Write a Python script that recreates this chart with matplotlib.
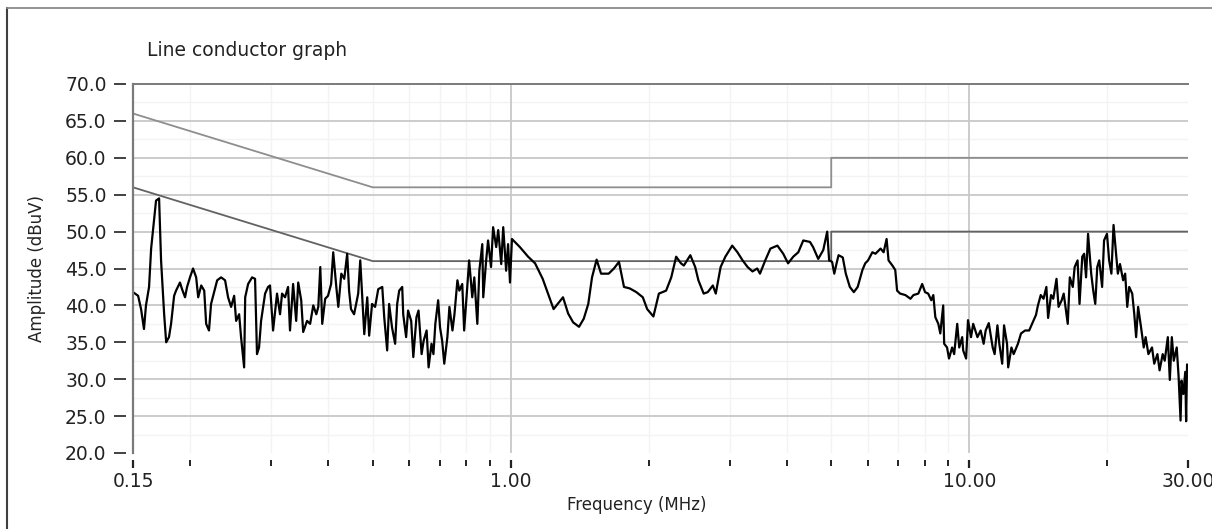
import matplotlib
matplotlib.use("Agg")
import matplotlib.pyplot as plt
from matplotlib.lines import Line2D
from matplotlib.ticker import FixedLocator, NullFormatter

# Measured conducted emission on the line conductor (MHz, dBuV)
freq_mhz = [
    0.150, 0.1539, 0.1562, 0.1585, 0.1601, 0.1626, 0.1643, 0.1667, 0.1684, 0.1710,
    0.1727, 0.1754, 0.1772, 0.1797, 0.1816, 0.1844, 0.1862, 0.1899, 0.1919, 0.1948,
    0.1968, 0.1997, 0.2028, 0.2060, 0.2081, 0.2113, 0.2145, 0.2166, 0.2197, 0.2220,
    0.2254, 0.2289, 0.2335, 0.2382, 0.2418, 0.2455, 0.2493, 0.2518, 0.2556, 0.2581,
    0.2621, 0.2635, 0.2674, 0.2728, 0.2769, 0.2796, 0.2825, 0.2854, 0.2912, 0.2956,
    0.2985, 0.3031, 0.3092, 0.3139, 0.3171, 0.3219, 0.3268, 0.3300, 0.3352, 0.3404,
    0.3439, 0.3491, 0.3526, 0.3595, 0.3651, 0.3709, 0.3766, 0.3804, 0.3842, 0.3880,
    0.3938, 0.3994, 0.4057, 0.4100, 0.4164, 0.4206, 0.4270, 0.4334, 0.4398, 0.4440,
    0.4483, 0.4553, 0.4648, 0.4696, 0.4744, 0.4792, 0.4864, 0.4911, 0.4983, 0.5060,
    0.5140, 0.5245, 0.5297, 0.5376, 0.5429, 0.5509, 0.5595, 0.5653, 0.5711, 0.5798,
    0.5827, 0.5913, 0.5971, 0.6065, 0.6130, 0.6228, 0.6293, 0.6391, 0.6456, 0.6554,
    0.6619, 0.6717, 0.6782, 0.6847, 0.6945, 0.7011, 0.7086, 0.7161, 0.7274, 0.7349,
    0.7462, 0.7537, 0.7650, 0.7725, 0.7838, 0.7913, 0.8029, 0.8114, 0.8242, 0.8327,
    0.8455, 0.8540, 0.8668, 0.8710, 0.8838, 0.8923, 0.9057, 0.9152, 0.9295, 0.9390,
    0.9533, 0.9629, 0.9771, 0.9867, 0.9962, 1.006, 1.047, 1.091, 1.130, 1.174,
    1.206, 1.240, 1.300, 1.334, 1.368, 1.409, 1.443, 1.476, 1.504, 1.539,
    1.574, 1.635, 1.679, 1.722, 1.766, 1.818, 1.879, 1.941, 1.984, 2.047,
    2.104, 2.182, 2.239, 2.295, 2.351, 2.385, 2.464, 2.525, 2.566, 2.635,
    2.690, 2.759, 2.800, 2.869, 2.938, 3.041, 3.122, 3.204, 3.285, 3.367,
    3.448, 3.496, 3.590, 3.684, 3.816, 3.929, 4.026, 4.132, 4.238, 4.345,
    4.494, 4.565, 4.684, 4.804, 4.900, 4.948, 5.022, 5.077, 5.132, 5.187,
    5.298, 5.380, 5.490, 5.601, 5.711, 5.848, 5.931, 6.016, 6.147, 6.244,
    6.407, 6.505, 6.603, 6.668, 6.798, 6.896, 6.961, 7.068, 7.256, 7.444,
    7.556, 7.744, 7.895, 8.009, 8.136, 8.264, 8.349, 8.434, 8.562, 8.647,
    8.774, 8.817, 8.945, 9.033, 9.176, 9.271, 9.414, 9.510, 9.652, 9.700,
    9.843, 9.938, 10.09, 10.20, 10.42, 10.59, 10.75, 10.86, 11.03, 11.25,
    11.36, 11.52, 11.63, 11.80, 11.91, 12.09, 12.16, 12.36, 12.50, 12.77,
    12.97, 13.24, 13.51, 13.78, 13.98, 14.12, 14.32, 14.52, 14.73, 14.86,
    15.08, 15.25, 15.50, 15.66, 15.91, 16.07, 16.40, 16.57, 16.82, 16.98,
    17.23, 17.40, 17.64, 17.81, 17.98, 18.16, 18.45, 18.64, 18.83, 19.02,
    19.21, 19.49, 19.68, 19.97, 20.19, 20.42, 20.64, 20.87, 21.09, 21.32,
    21.66, 21.88, 22.11, 22.33, 22.67, 22.90, 23.12, 23.35, 23.69, 24.02,
    24.25, 24.59, 25.04, 25.32, 25.73, 26.01, 26.42, 26.69, 27.11, 27.38,
    27.66, 27.93, 28.35, 28.62, 28.90, 29.04, 29.31, 29.59, 29.72, 29.86,
    30.00,
]
level_dbuv = [
    41.8, 41.3, 39.5, 36.8, 40.0, 42.5, 47.7, 51.5, 54.2, 54.5,
    46.1, 38.8, 35.0, 35.7, 37.5, 41.3, 42.0, 43.1, 42.2, 41.1,
    42.5, 43.8, 45.0, 43.8, 41.1, 42.7, 42.0, 37.5, 36.6, 40.2,
    41.8, 43.4, 43.8, 43.4, 41.1, 39.8, 41.3, 37.9, 38.8, 35.7,
    31.6, 41.1, 42.9, 43.8, 43.6, 33.4, 34.3, 37.9, 41.6, 42.5,
    42.7, 36.6, 41.6, 38.8, 41.6, 41.1, 42.5, 36.6, 42.9, 37.9,
    43.1, 40.7, 36.4, 37.9, 37.5, 40.0, 38.8, 39.8, 45.2, 37.5,
    40.9, 41.3, 42.9, 47.2, 42.5, 39.8, 44.3, 43.6, 47.0, 42.0,
    39.5, 38.8, 41.6, 46.1, 41.1, 36.1, 41.1, 35.9, 40.2, 39.8,
    42.2, 42.5, 38.4, 33.9, 40.2, 37.0, 34.8, 40.2, 42.0, 42.5,
    38.8, 35.7, 39.3, 37.9, 33.0, 38.4, 39.3, 33.4, 35.2, 36.6,
    31.6, 34.8, 33.4, 37.5, 40.7, 37.0, 35.2, 32.1, 35.7, 39.8,
    36.6, 38.8, 43.4, 42.0, 42.9, 36.6, 42.0, 46.1, 41.1, 43.8,
    37.5, 44.7, 48.3, 41.1, 46.1, 48.8, 45.2, 50.6, 47.9, 50.2,
    45.6, 50.6, 44.7, 48.3, 43.1, 49.0, 47.9, 46.6, 45.7, 43.6,
    41.6, 39.5, 41.1, 38.9, 37.7, 37.1, 38.2, 40.2, 43.8, 46.2,
    44.3, 44.3, 45.0, 45.9, 42.5, 42.3, 41.8, 41.1, 39.5, 38.5,
    41.6, 42.0, 43.8, 46.6, 45.7, 45.4, 46.8, 45.2, 43.4, 41.6,
    41.8, 42.7, 41.6, 45.2, 46.6, 48.1, 47.2, 46.1, 45.2, 44.6,
    45.0, 44.3, 46.1, 47.7, 48.1, 47.0, 45.7, 46.6, 47.2, 48.8,
    48.6, 47.9, 46.3, 47.5, 50.0, 46.1, 45.9, 44.3, 45.6, 46.8,
    46.5, 44.3, 42.5, 41.8, 42.5, 44.8, 45.7, 46.1, 47.2, 47.0,
    47.7, 47.2, 49.0, 46.1, 45.4, 44.8, 42.0, 41.6, 41.4, 40.9,
    41.4, 41.6, 42.9, 41.8, 41.6, 40.7, 41.4, 38.4, 37.5, 36.2,
    40.0, 34.8, 34.3, 32.8, 34.3, 33.4, 37.5, 34.3, 35.7, 33.9,
    32.8, 38.0, 35.7, 37.5, 35.7, 36.6, 34.8, 36.6, 37.6, 34.3,
    33.4, 37.3, 34.8, 32.1, 37.3, 34.8, 31.6, 34.3, 33.4, 34.8,
    36.2, 36.6, 36.6, 37.8, 38.7, 40.0, 41.4, 40.9, 42.5, 38.3,
    41.4, 40.9, 43.6, 39.8, 40.7, 41.6, 37.5, 43.8, 42.5, 45.2,
    46.1, 40.2, 46.6, 47.0, 43.8, 49.7, 44.3, 42.0, 40.2, 45.2,
    46.1, 42.5, 48.8, 49.7, 46.1, 44.3, 50.9, 47.5, 44.3, 45.6,
    43.4, 44.3, 39.8, 42.5, 41.6, 38.9, 35.7, 39.8, 37.1, 34.3,
    35.7, 33.4, 34.3, 32.1, 33.4, 31.2, 33.4, 32.5, 35.7, 29.9,
    35.7, 32.5, 34.3, 30.3, 24.4, 29.8, 28.0, 31.0, 24.3, 32.0,
    30.8,
]

# Limit lines (quasi-peak and average)
qp_freq = [0.15, 0.5, 5.0, 5.0, 30.0]
qp_limit = [66.0, 56.0, 56.0, 60.0, 60.0]
avg_freq = [0.15, 0.5, 5.0, 5.0, 30.0]
avg_limit = [56.0, 46.0, 46.0, 50.0, 50.0]

major_ticks = [0.15, 1.0, 10.0, 30.0]
major_labels = ["0.15", "1.00", "10.00", "30.00"]
minor_ticks = [0.2, 0.3, 0.4, 0.5, 0.6, 0.7, 0.8, 0.9,
               2, 3, 4, 5, 6, 7, 8, 9, 20]
y_ticks = [20, 25, 30, 35, 40, 45, 50, 55, 60, 65, 70]
y_minor = [22.5, 27.5, 32.5, 37.5, 42.5, 47.5, 52.5, 57.5, 62.5, 67.5]

plt.rcParams['font.family'] = ['DejaVu Sans']
W, H = 1212, 529
fig = plt.figure(figsize=(W / 100, H / 100), dpi=100)
ax = fig.add_axes([133 / W, 1 - 453 / H, (1188 - 133) / W, (453 - 84) / H])

ax.set_xscale('log')
ax.set_xlim(0.15, 30)
ax.set_ylim(20, 70)

# grid: faint minor lines, grey major lines
for f in minor_ticks:
    ax.axvline(f, color='#f3f3f3', lw=1.0, zorder=0)
for v in y_minor:
    ax.axhline(v, color='#f3f3f3', lw=1.0, zorder=0)
for f in [1.0, 10.0]:
    ax.axvline(f, color='#c8c8c8', lw=1.3, zorder=1)
for v in y_ticks[1:-1]:
    ax.axhline(v, color='#c8c8c8', lw=1.3, zorder=1)

ax.plot(qp_freq, qp_limit, color='#8e8e8e', lw=1.3, zorder=2)
ax.plot(avg_freq, avg_limit, color='#626262', lw=1.3, zorder=2)
ax.plot(freq_mhz, level_dbuv, color='black', lw=1.6, zorder=3)

ax.xaxis.set_major_locator(FixedLocator(major_ticks))
ax.xaxis.set_minor_locator(FixedLocator(minor_ticks))
ax.xaxis.set_minor_formatter(NullFormatter())
ax.set_xticklabels(major_labels)
ax.set_yticks(y_ticks)
ax.set_yticklabels(["%.1f" % v for v in y_ticks])

# ticks sit a few pixels away from the plot edge
for side in ['right', 'bottom', 'left']:
    ax.spines[side].set_visible(False)
ax.spines['bottom'].set_position(('outward', 5))
ax.spines['left'].set_position(('outward', 5))
ax.spines['top'].set_color('#7a7a7a')
ax.spines['top'].set_linewidth(1.4)
ax.axvline(0.15, color='#7a7a7a', lw=1.6, clip_on=False, zorder=4)

ax.tick_params(axis='y', direction='out', length=9, width=1.3, color='#333333',
               labelsize=13.5, pad=5, labelcolor='#222222')
ax.tick_params(axis='x', which='major', direction='out', length=6, width=1.6,
               color='#222222', labelsize=13.5, pad=3, labelcolor='#222222')
ax.tick_params(axis='x', which='minor', direction='out', length=4, width=1.4,
               color='#222222')

ax.set_ylabel('Amplitude (dBuV)', fontsize=12, color='#222222')
ax.yaxis.set_label_coords(-(133 - 46) / (1188 - 133), 0.5)
fig.text(637 / W, 1 - 505 / H, 'Frequency (MHz)', fontsize=12,
         color='#222222', va='center', ha='center')
fig.text(147 / W, 1 - 50 / H, 'Line conductor graph', fontsize=13.5,
         color='#222222', va='center', ha='left')

# panel frame on the left and top edges
fig.add_artist(Line2D([7 / W, 7 / W], [0, 1 - 8 / H], color='#404040', lw=1.5))
fig.add_artist(Line2D([7 / W, 1], [1 - 8 / H, 1 - 8 / H], color='#8a8a8a', lw=1.3))

fig.savefig('out.png', dpi=100)
